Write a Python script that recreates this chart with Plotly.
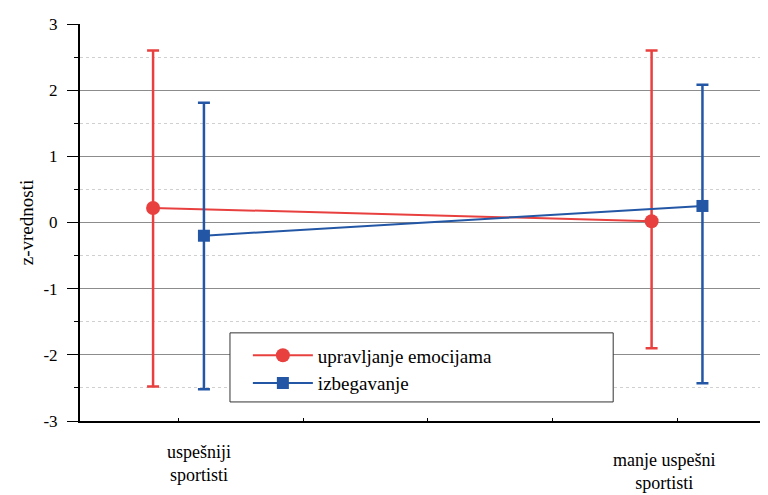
import plotly.graph_objects as go

# --- datos ---
grupos = ['uspešniji<br>sportisti', 'manje uspešni<br>sportisti']
pos = [0, 1]

emocije = [0.22, 0.02]
emocije_gornja = [2.60, 2.60]
emocije_donja = [-2.48, -1.90]

izbegavanje = [-0.20, 0.25]
izbeg_gornja = [1.81, 2.08]
izbeg_donja = [-2.52, -2.43]

y_vrednosti = [-3, -2, -1, 0, 1, 2, 3]
y_natpisi = ['-3', '-2', '-1', '0', '1', '2', '3']

crvena = '#E8403F'
plava = '#2357A5'
pomak = 0.051
font_serif = 'Liberation Serif, Times New Roman, serif'

fig = go.Figure()

fig.add_trace(go.Scatter(
    x=[p - pomak for p in pos], y=emocije,
    mode='lines+markers', name='upravljanje emocijama',
    line=dict(color=crvena, width=2),
    marker=dict(color=crvena, size=14, symbol='circle'),
    error_y=dict(type='data', symmetric=False,
                 array=[g - v for g, v in zip(emocije_gornja, emocije)],
                 arrayminus=[v - d for v, d in zip(emocije, emocije_donja)],
                 color=crvena, thickness=2.5, width=6),
))

fig.add_trace(go.Scatter(
    x=[p + pomak for p in pos], y=izbegavanje,
    mode='lines+markers', name='izbegavanje',
    line=dict(color=plava, width=2),
    marker=dict(color=plava, size=12, symbol='square'),
    error_y=dict(type='data', symmetric=False,
                 array=[g - v for g, v in zip(izbeg_gornja, izbegavanje)],
                 arrayminus=[v - d for v, d in zip(izbegavanje, izbeg_donja)],
                 color=plava, thickness=2.5, width=6),
))

# natpisi kategorija
fig.add_annotation(x=0.041, y=-0.106, xref='x', yref='paper',
                   text=grupos[0], showarrow=False, yanchor='middle',
                   font=dict(family=font_serif, size=18, color='black'))
fig.add_annotation(x=0.974, y=-0.126, xref='x', yref='paper',
                   text=grupos[1], showarrow=False, yanchor='middle',
                   font=dict(family=font_serif, size=18, color='black'))

# okvir legende
fig.add_shape(type='rect', xref='paper', yref='paper',
              x0=0.218, x1=0.775, y0=0.048, y1=0.222,
              line=dict(color='#333', width=1), fillcolor='white', layer='above')

# stranica ima marginu od 8px, pa je figura manja
fig.update_layout(
    width=760, height=487,
    margin=dict(l=72, r=0, t=16, b=74, autoexpand=False),
    plot_bgcolor='white', paper_bgcolor='white',
    font=dict(family=font_serif, size=17, color='black'),
    legend=dict(
        x=0.244, y=0.213, xanchor='left', yanchor='top',
        bgcolor='rgba(0,0,0,0)', borderwidth=0,
        font=dict(family=font_serif, size=19, color='black'),
        itemwidth=60, tracegroupgap=0,
    ),
)

fig.update_xaxes(
    range=[-0.1976, 1.1825], showgrid=False, zeroline=False,
    showline=True, linecolor='black', linewidth=2,
    tickvals=[0, 0.25, 0.5, 0.75, 1], showticklabels=False,
    ticks='inside', ticklen=3, tickcolor='black',
)
fig.update_yaxes(
    range=[-3, 3], tickvals=y_vrednosti, ticktext=y_natpisi,
    zeroline=False, automargin=False,
    showline=True, linecolor='black', linewidth=2,
    showgrid=True, gridcolor='#8c8c8c', gridwidth=1,
    ticks='outside', ticklen=11, tickcolor='black', ticklabelstandoff=6,
    minor=dict(dtick=0.5, showgrid=True, gridcolor='#d0d0d0', griddash='dot',
               ticks='outside', ticklen=4, tickcolor='black'),
    title=dict(text='z-vrednosti', standoff=5,
               font=dict(family=font_serif, size=19)),
)

fig.write_html('out.html')
